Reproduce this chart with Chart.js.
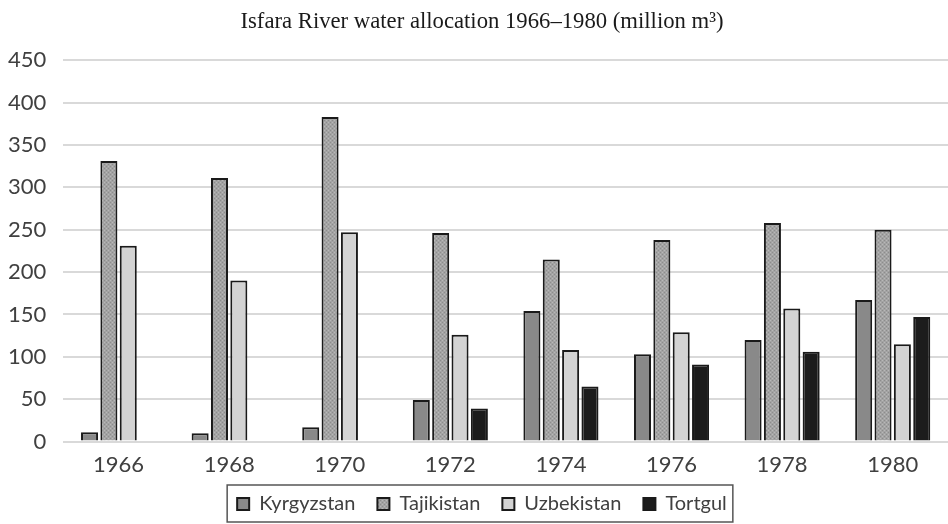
<!DOCTYPE html>
<html>
<head>
<meta charset="utf-8">
<script src="https://cdn.jsdelivr.net/npm/chart.js@4.4.1/dist/chart.umd.min.js"></script>
<style>
  html, body { margin: 0; padding: 0; background: #fff; }
  #wrap { width: 948px; height: 524px; }
</style>
</head>
<body>
<div id="wrap"><canvas id="grafico" width="948" height="524"></canvas></div>
<script>
var anos = ["1966", "1968", "1970", "1972", "1974", "1976", "1978", "1980"];
var kyrgyzstan = [11, 10, 17, 49, 154, 103, 120, 167];
var tajikistan = [331, 311, 383, 246, 215, 238, 258, 250];
var uzbekistan = [231, 190, 247, 126, 108, 129, 157, 115];
var tortgul = [null, null, null, 39, 65, 91, 106, 147];
var ticksY = [0, 50, 100, 150, 200, 250, 300, 350, 400, 450];

// textura pontilhada do Tajiquistao
function padrao() {
  var c = document.createElement("canvas");
  c.width = 4;
  c.height = 4;
  var g = c.getContext("2d");
  g.fillStyle = "#a3a3a3";
  g.fillRect(0, 0, 4, 4);
  g.fillStyle = "#8c8c8c";
  g.fillRect(0, 0, 1, 1);
  g.fillRect(2, 2, 1, 1);
  g.fillStyle = "#b8b8b8";
  g.fillRect(2, 0, 1, 1);
  g.fillRect(0, 2, 1, 1);
  return g.createPattern(c, "repeat");
}

// sem recorte dos rotulos dos eixos
function semRecorte(axis) {
  axis._computeLabelArea = function () { return undefined; };
}

var bordaLegenda = {
  id: "bordaLegenda",
  afterDraw: function (chart) {
    var boxes = chart.legend.legendHitBoxes;
    if (!boxes || !boxes.length) return;
    var x1 = boxes[0].left, x2 = 0, y1 = boxes[0].top, y2 = 0;
    for (var i = 0; i < boxes.length; i++) {
      x1 = Math.min(x1, boxes[i].left);
      x2 = Math.max(x2, boxes[i].left + boxes[i].width);
      y1 = Math.min(y1, boxes[i].top);
      y2 = Math.max(y2, boxes[i].top + boxes[i].height);
    }
    var ctx = chart.ctx;
    ctx.save();
    ctx.strokeStyle = "#555";
    ctx.lineWidth = 1.5;
    ctx.strokeRect(x1 - 10, y1 - 9, x2 - x1 + 16, y2 - y1 + 17);
    ctx.restore();
  }
};

var ctx = document.getElementById("grafico").getContext("2d");

new Chart(ctx, {
  type: "bar",
  data: {
    labels: anos,
    datasets: [
      { label: "Kyrgyzstan", data: kyrgyzstan, backgroundColor: "#898989" },
      { label: "Tajikistan", data: tajikistan, backgroundColor: padrao() },
      { label: "Uzbekistan", data: uzbekistan, backgroundColor: "#d3d3d3" },
      { label: "Tortgul", data: tortgul, backgroundColor: "#1c1c1c" }
    ]
  },
  options: {
    responsive: false,
    animation: false,
    layout: { padding: { left: 16, right: 0, top: 0, bottom: 0 } },
    datasets: {
      bar: {
        borderColor: "#1a1a1a",
        borderWidth: 2,
        categoryPercentage: 0.70,
        barPercentage: 0.88
      }
    },
    plugins: {
      title: {
        display: true,
        text: "Isfara River water allocation 1966\u20131980 (million m\u00b3)",
        color: "#1a1a1a",
        font: { family: "Liberation Serif", size: 22.7, weight: "normal" },
        padding: { top: 8, bottom: 25 }
      },
      legend: {
        position: "bottom",
        labels: {
          color: "#404040",
          font: { family: "Lato", size: 20 },
          boxWidth: 12,
          boxHeight: 12,
          padding: 22,
          useBorderRadius: false
        }
      },
      tooltip: { enabled: false }
    },
    scales: {
      x: {
        grid: { display: false },
        border: { display: false },
        ticks: { color: "#404040", font: { family: "Lato", size: 22 }, padding: 2 },
        afterFit: function (axis) {
          semRecorte(axis);
          axis.height = axis.height - 8;
        }
      },
      y: {
        min: 0,
        max: 450,
        afterBuildTicks: function (axis) {
          axis.ticks = ticksY.map(function (v) { return { value: v }; });
        },
        grid: { color: "#d9d9d9", lineWidth: 2, drawTicks: false },
        border: { display: false },
        ticks: { color: "#404040", font: { family: "Lato", size: 22 }, padding: 17 },
        afterFit: function (axis) {
          semRecorte(axis);
          axis.width = axis.width - 25;
        }
      }
    }
  },
  plugins: [bordaLegenda]
});
</script>
</body>
</html>
